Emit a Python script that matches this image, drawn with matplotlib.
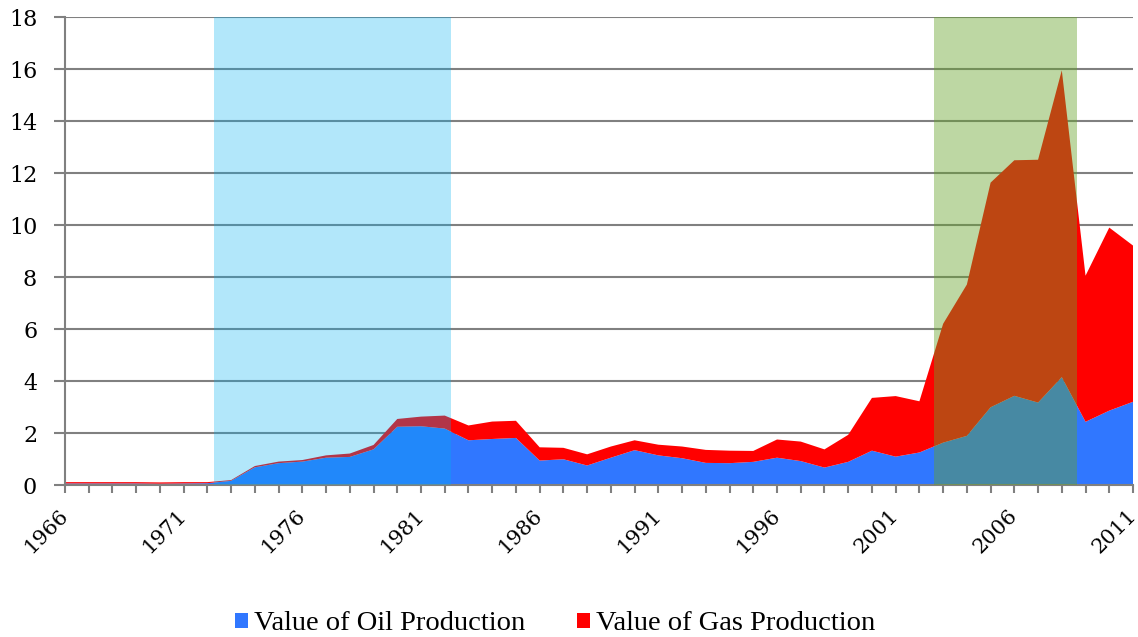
"""Value of oil and gas production, 1966-2011, with two highlighted periods."""

import matplotlib
matplotlib.use("Agg")
import matplotlib.pyplot as plt
import matplotlib.ticker as mticker
import matplotlib.transforms as mtransforms
import numpy as np

plt.rcParams["font.family"] = ["Liberation Serif", "DejaVu Serif"]

years = np.arange(1966, 2012)

oil_value = [
    0.06, 0.06, 0.06, 0.06, 0.05, 0.06, 0.07, 0.16, 0.68, 0.84,
    0.90, 1.05, 1.08, 1.37, 2.24, 2.26, 2.17, 1.72, 1.77, 1.81,
    0.94, 0.99, 0.75, 1.05, 1.34, 1.14, 1.03, 0.85, 0.84, 0.89,
    1.05, 0.92, 0.67, 0.89, 1.32, 1.09, 1.25, 1.63, 1.89, 2.99,
    3.43, 3.17, 4.15, 2.43, 2.86, 3.20,
]
gas_value = [
    0.05, 0.05, 0.05, 0.05, 0.05, 0.05, 0.04, 0.03, 0.05, 0.06,
    0.06, 0.09, 0.13, 0.17, 0.30, 0.37, 0.50, 0.57, 0.67, 0.66,
    0.51, 0.44, 0.43, 0.43, 0.38, 0.41, 0.45, 0.50, 0.48, 0.42,
    0.70, 0.75, 0.70, 1.04, 2.03, 2.33, 1.97, 4.57, 5.82, 8.64,
    9.06, 9.34, 11.80, 5.62, 7.04, 6.01,
]

# highlighted periods (start, end) in years
period_1 = (1972.28, 1982.25)
period_2 = (2002.62, 2008.65)

labels = ["Value of Oil Production", "Value of Gas Production"]
color_oil = "#3077FF"
color_gas = "#FF0000"
tick_font = ["DejaVu Serif"]

fig = plt.figure(figsize=(11.38, 6.37), dpi=100)
ax = fig.add_axes([65 / 1138, 1 - 485 / 637, 1068 / 1138, 468 / 637])

ax.stackplot(years, oil_value, gas_value, colors=[color_oil, color_gas],
             labels=labels, linewidth=0, zorder=2)

ax.axvspan(*period_1, ymin=0, ymax=1, color="#00B0F0", alpha=0.30,
           linewidth=0, zorder=3)
ax.axvspan(*period_2, ymin=0, ymax=1, color="#66A32A", alpha=0.43,
           linewidth=0, zorder=3)

ax.set_xlim(1966, 2011)
ax.set_ylim(0, 18)
ax.yaxis.set_major_locator(mticker.MultipleLocator(2))
ax.set_xticks(years, minor=True)
ax.set_xticks(np.arange(1966, 2012, 5))
ax.set_xticklabels([str(y) for y in range(1966, 2012, 5)], rotation=45,
                   ha="right", va="center", rotation_mode="anchor",
                   fontsize=15, family=tick_font)
# nudge the slanted year labels so the last one stays on the canvas
shift = mtransforms.ScaledTranslation(-6 / 100, -8 / 100, fig.dpi_scale_trans)
for lbl in ax.get_xticklabels():
    lbl.set_transform(lbl.get_transform() + shift)
for lbl in ax.get_yticklabels():
    lbl.set_family(tick_font)

ax.grid(axis="y", color="#808080", linewidth=1.5, zorder=1)
ax.set_axisbelow(True)

for side in ["top", "right"]:
    ax.spines[side].set_visible(False)
for side in ["left", "bottom"]:
    ax.spines[side].set_color("#808080")
    ax.spines[side].set_linewidth(1.5)

ax.tick_params(axis="y", length=8, width=1.5, color="#808080", pad=12,
               labelsize=16)
ax.tick_params(axis="x", which="both", length=6, width=1.5, color="#808080",
               pad=14)

ax.legend(loc="center", bbox_to_anchor=(555 / 1138, 13 / 637),
          bbox_transform=fig.transFigure, ncol=2, frameon=False, fontsize=20.5,
          handlelength=0.47, handleheight=0.47, handletextpad=0.2,
          columnspacing=1.8)

fig.savefig("out.png", dpi=100)
